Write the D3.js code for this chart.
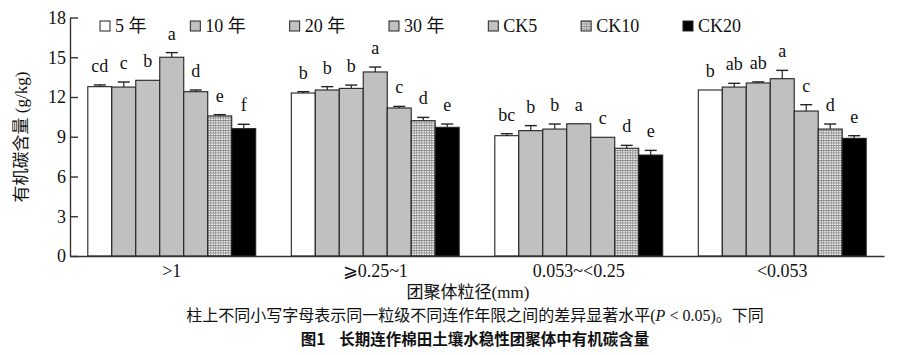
<!DOCTYPE html>
<html><head><meta charset="utf-8">
<script src="https://cdn.jsdelivr.net/npm/d3@7"></script>
<style>
body{margin:0;background:#fff;}
svg{display:block;}
</style></head>
<body><svg id="chart" width="900" height="355"></svg>
<script>
const categories = [">1", "\u2A7E0.25~1", "0.053~<0.25", "<0.053"];
const seriesNames = ["5 年", "10 年", "20 年", "30 年", "CK5", "CK10", "CK20"];
const values = [
  [12.78, 12.75, 13.26, 15.00, 12.40, 10.57, 9.61],
  [12.30, 12.53, 12.65, 13.89, 11.17, 10.21, 9.71],
  [9.08, 9.46, 9.58, 9.98, 8.96, 8.13, 7.62],
  [12.53, 12.75, 13.06, 13.38, 10.94, 9.58, 8.88]
];
const errors = [
  [0.13, 0.38, 0.00, 0.35, 0.13, 0.10, 0.33],
  [0.10, 0.25, 0.25, 0.37, 0.12, 0.25, 0.25],
  [0.15, 0.38, 0.38, 0.00, 0.00, 0.22, 0.35],
  [0.00, 0.28, 0.08, 0.63, 0.48, 0.38, 0.20]
];
const letters = [
  ["cd", "c", "b", "a", "d", "e", "f"],
  ["b", "b", "b", "a", "c", "d", "e"],
  ["bc", "b", "b", "a", "c", "d", "e"],
  ["b", "ab", "ab", "a", "c", "d", "e"]
];
const yTicks = [0, 3, 6, 9, 12, 15, 18];
const yTitle = "有机碳含量 (g/kg)";
const xTitle = "团聚体粒径(mm)";
const note = "柱上不同小写字母表示同一粒级不同连作年限之间的差异显著水平(";
const figTitle = "图1\u00a0\u00a0\u00a0\u00a0长期连作棉田土壤水稳性团聚体中有机碳含量";

const serif = "'Liberation Serif','Times New Roman','DejaVu Serif','Noto Sans CJK SC',serif";
const svg = d3.select("#chart");
const fills = ["#ffffff", "#c0c0c0", "#c2c2c2", "#c0c0c0", "#c0c0c0", "url(#grid)", "#000000"];

const defs = svg.append("defs");
const pat = defs.append("pattern").attr("id", "grid").attr("patternUnits", "userSpaceOnUse")
  .attr("width", 2.5).attr("height", 2.5);
pat.append("rect").attr("width", 2.5).attr("height", 2.5).attr("fill", "#ffffff");
pat.append("path").attr("d", "M0,0.5H2.5M0.5,0V2.5").attr("stroke", "#8a8a8a").attr("stroke-width", 0.9);

const x0 = d3.scaleBand().domain(categories).range([70, 884]).paddingInner(0.175).paddingOuter(0.0875);
const x1 = d3.scaleBand().domain(seriesNames).range([0, x0.bandwidth()]);
const y = d3.scaleLinear().domain([0, 18]).range([256, 17.5]);

// bars
const groups = svg.append("g").selectAll("g").data(categories).join("g")
  .attr("transform", d => `translate(${x0(d)},0)`);
groups.each(function(cat, ci) {
  const g = d3.select(this);
  const rows = seriesNames.map((s, si) => ({s, si, v: values[ci][si], e: errors[ci][si], l: letters[ci][si]}));
  g.selectAll("rect").data(rows).join("rect")
    .attr("x", d => x1(d.s)).attr("width", x1.bandwidth())
    .attr("y", d => y(d.v)).attr("height", d => y(0) - y(d.v))
    .attr("fill", d => fills[d.si]).attr("stroke", "#222").attr("stroke-width", 1.1);
  const eb = g.selectAll("g.err").data(rows.filter(d => d.e > 0)).join("g").attr("class", "err");
  eb.append("line").attr("x1", d => x1(d.s) + x1.bandwidth()/2).attr("x2", d => x1(d.s) + x1.bandwidth()/2)
    .attr("y1", d => y(d.v)).attr("y2", d => y(d.v + d.e)).attr("stroke", "#222").attr("stroke-width", 1.2);
  eb.append("line").attr("x1", d => x1(d.s) + x1.bandwidth()/2 - 6).attr("x2", d => x1(d.s) + x1.bandwidth()/2 + 6)
    .attr("y1", d => y(d.v + d.e)).attr("y2", d => y(d.v + d.e)).attr("stroke", "#222").attr("stroke-width", 1.4);
  g.selectAll("text.lt").data(rows).join("text").attr("class", "lt")
    .attr("x", d => x1(d.s) + x1.bandwidth()/2).attr("y", d => y(d.v + d.e) - 13)
    .attr("text-anchor", "middle").attr("font-family", serif).attr("font-size", 18).attr("fill", "#111")
    .text(d => d.l);
});

// axes
const yAxis = d3.axisLeft(y).tickValues(yTicks).tickSize(-8).tickSizeOuter(0).tickPadding(4);
const ya = svg.append("g").attr("transform", "translate(70,0)").call(yAxis);
ya.attr("font-family", serif);
ya.selectAll("text").attr("font-family", serif).attr("font-size", 18).attr("fill", "#111");
ya.selectAll("line,path").attr("stroke", "#333").attr("stroke-width", 1.4);

const xAxis = d3.axisBottom(x0).tickSize(0).tickSizeOuter(0).tickPadding(8);
const xa = svg.append("g").attr("transform", "translate(0,256)").call(xAxis);
xa.attr("font-family", serif);
xa.selectAll("text").attr("font-family", serif).attr("font-size", 18).attr("fill", "#111");
xa.selectAll("path").attr("stroke", "#333").attr("stroke-width", 1.4);

// y title
svg.append("text").attr("transform", "translate(27,137) rotate(-90)")
  .attr("text-anchor", "middle").attr("font-family", serif).attr("font-size", 17).attr("fill", "#111")
  .text(yTitle);

// legend
const lg = svg.append("g").attr("transform", "translate(0,26)");
const items = lg.selectAll("g").data(seriesNames).join("g");
items.append("rect").attr("x", 0).attr("y", -5).attr("width", 10).attr("height", 10)
  .attr("fill", (d, i) => fills[i]).attr("stroke", "#222").attr("stroke-width", 1);
items.append("text").attr("x", 15).attr("y", 6).attr("font-family", serif).attr("font-size", 18).attr("fill", "#111")
  .text(d => d);
const widths = [];
items.each(function() { widths.push(15 + d3.select(this).select("text").node().getComputedTextLength()); });
const lx0 = 100, lx1 = 741;
const gap = (lx1 - lx0 - d3.sum(widths)) / (widths.length - 1);
let cx = lx0;
items.each(function(d, i) { d3.select(this).attr("transform", `translate(${cx},0)`); cx += widths[i] + gap; });

// x title & notes
svg.append("text").attr("x", 468).attr("y", 298).attr("text-anchor", "middle")
  .attr("font-family", serif).attr("font-size", 17).attr("fill", "#111").text(xTitle);
const nt = svg.append("text").attr("x", 475).attr("y", 321).attr("text-anchor", "middle")
  .attr("font-family", serif).attr("font-size", 16).attr("fill", "#111");
nt.append("tspan").text(note);
nt.append("tspan").attr("font-style", "italic").text("P");
nt.append("tspan").text(" < 0.05)。下同");
svg.append("text").attr("x", 475).attr("y", 345).attr("text-anchor", "middle")
  .attr("font-family", "'Noto Sans CJK SC','Noto Sans',sans-serif").attr("font-weight", "bold")
  .attr("font-size", 15.5).attr("fill", "#111").text(figTitle);
</script></body></html>
